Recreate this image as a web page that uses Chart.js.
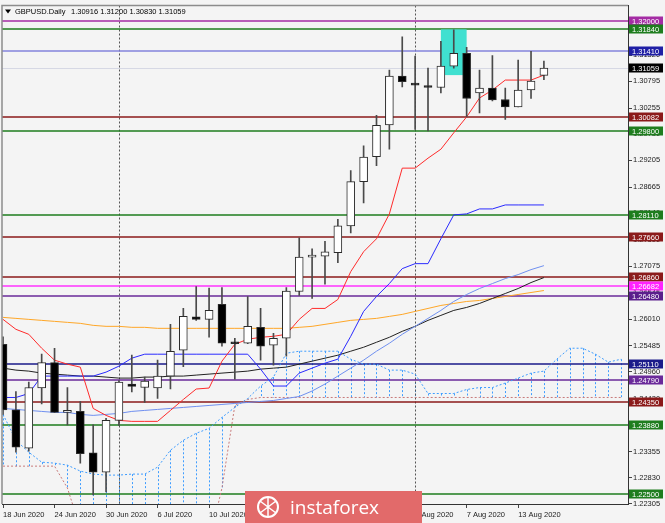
<!DOCTYPE html>
<html>
<head>
<meta charset="utf-8">
<script src="https://cdn.jsdelivr.net/npm/chart.js@4.4.1/dist/chart.umd.min.js"></script>
<style>
html, body { margin: 0; padding: 0; background: #f4f4f4; overflow: hidden; }
canvas { display: block; }
</style>
</head>
<body>
<canvas id="chart" width="665" height="523"></canvas>
<script>
// GBPUSD daily candles, 18 Jun 2020 .. 17 Aug 2020
const openP  = [1.2551,1.2419,1.2342,1.2463,1.2514,1.2414,1.2416,1.2333,1.2294,1.2398,
                1.2471,1.2464,1.2463,1.2487,1.2539,1.2606,1.2601,1.2631,1.2553,1.2553,
                1.2585,1.2549,1.2563,1.2657,1.2726,1.2728,1.2735,1.2789,1.2878,1.2928,
                1.2992,1.3090,1.3074,1.3069,1.3067,1.3110,1.3136,1.3056,1.3066,1.3043,
                1.3028,1.3062,1.30916];
const highP  = [1.2566,1.2456,1.2475,1.2531,1.2543,1.2464,1.2436,1.2389,1.2402,1.2478,
                1.2529,1.2485,1.2519,1.2591,1.2623,1.2667,1.2664,1.2665,1.2563,1.2647,
                1.2623,1.2573,1.2665,1.2765,1.2743,1.2758,1.2802,1.2900,1.2950,1.3011,
                1.3102,1.3169,1.3130,1.3106,1.3160,1.3183,1.3148,1.3102,1.3131,1.3066,
                1.3122,1.3140,1.31200];
const lowP   = [1.2410,1.2334,1.2336,1.2431,1.2414,1.2389,1.2312,1.2248,1.2254,1.2388,
                1.2455,1.2434,1.2442,1.2461,1.2506,1.2599,1.2565,1.2547,1.2481,1.2552,
                1.2519,1.2509,1.2527,1.2649,1.2643,1.2672,1.2715,1.2775,1.2835,1.2910,
                1.2943,1.3068,1.2983,1.2980,1.3056,1.3106,1.3008,1.3016,1.3040,1.3003,
                1.3028,1.3045,1.30830];
const closeP = [1.2419,1.2344,1.2464,1.2514,1.2414,1.2416,1.2331,1.2294,1.2398,1.2475,
                1.2466,1.2477,1.2487,1.2537,1.2607,1.2601,1.2619,1.2553,1.2552,1.2587,
                1.2547,1.2563,1.2658,1.2726,1.2730,1.2737,1.2789,1.2878,1.2927,1.2991,
                1.3090,1.3079,1.3072,1.3067,1.3110,1.3136,1.3045,1.3066,1.3042,1.3028,
                1.3062,1.3080,1.31059];

// Ichimoku
const tenkan = [1.2601,1.2581,1.2571,1.2543,1.2519,1.2511,1.2505,1.2422,1.2408,1.2398,
                1.2396,1.2396,1.2396,1.2418,1.2440,1.2461,1.2463,1.2517,1.2551,1.2561,
                1.2565,1.2567,1.2571,1.2601,1.2623,1.2623,1.2641,1.2697,1.2737,1.2763,
                1.2813,1.2905,1.2905,1.2925,1.2943,1.2976,1.3008,1.3046,1.3062,1.3082,
                1.3082,1.3082,1.3092];
const kijun  = [1.2444,1.2444,1.2452,1.2487,1.2487,1.2487,1.2487,1.2487,1.2495,1.2507,
                1.2523,1.2531,1.2531,1.2531,1.2531,1.2531,1.2531,1.2531,1.2531,1.2531,
                1.2501,1.2467,1.2467,1.2493,1.2503,1.2513,1.2521,1.2567,1.2617,1.2647,
                1.2673,1.2703,1.2713,1.2713,1.2763,1.2811,1.2813,1.2823,1.2823,1.2831,
                1.2831,1.2831,1.2831];
const spanA  = [1.2410,1.2358,1.2334,1.2314,1.2312,1.2308,1.2296,1.2290,1.2288,1.2288,
                1.2290,1.2290,1.2304,1.2338,1.2358,1.2372,1.2382,1.2404,1.2424,1.2442,
                1.2467,1.2485,1.2533,1.2537,1.2537,1.2537,1.2537,1.2521,1.2511,1.2511,
                1.2499,1.2499,1.2491,1.2452,1.2452,1.2452,1.2460,1.2464,1.2464,1.2473,
                1.2483,1.2493,1.2497,1.2521,1.2543,1.2543,1.2531,1.2515,1.2521];
const spanB  = [1.2306,1.2306,1.2306,1.2306,1.2306,1.2262,1.2181,1.2165,1.2160,1.2160,
                1.2160,1.2160,1.2158,1.2158,1.2158,1.2158,1.2152,1.2262,1.2428,1.2440,
                1.2444,1.2444,1.2444,1.2444,1.2444,1.2444,1.2444,1.2444,1.2444,1.2444,
                1.2444,1.2444,1.2444,1.2444,1.2444,1.2444,1.2444,1.2444,1.2444,1.2444,
                1.2444,1.2444,1.2444,1.2444,1.2444,1.2444,1.2444,1.2444,1.2444];

// moving averages
const maBlue   = [1.2422,1.2420,1.2418,1.2416,1.2414,1.2414,1.2410,1.2408,1.2410,1.2412,
                  1.2416,1.2418,1.2420,1.2422,1.2424,1.2426,1.2428,1.2430,1.2432,1.2434,
                  1.2436,1.2438,1.2442,1.2446,1.2457,1.2471,1.2487,1.2503,1.2519,1.2537,
                  1.2553,1.2571,1.2587,1.2603,1.2619,1.2637,1.2651,1.2663,1.2673,1.2683,
                  1.2691,1.2701,1.2709];
const maBlack  = [1.2503,1.2499,1.2497,1.2493,1.2491,1.2489,1.2487,1.2487,1.2485,1.2483,
                  1.2483,1.2485,1.2485,1.2487,1.2487,1.2489,1.2491,1.2493,1.2495,1.2497,
                  1.2501,1.2503,1.2505,1.2511,1.2517,1.2523,1.2529,1.2537,1.2545,1.2555,
                  1.2565,1.2577,1.2587,1.2599,1.2609,1.2619,1.2625,1.2633,1.2643,1.2653,
                  1.2663,1.2675,1.2685];
const maOrange = [1.2605,1.2603,1.2601,1.2599,1.2597,1.2595,1.2593,1.2589,1.2587,1.2587,
                  1.2585,1.2585,1.2583,1.2583,1.2583,1.2583,1.2583,1.2583,1.2583,1.2583,
                  1.2583,1.2583,1.2583,1.2585,1.2587,1.2591,1.2595,1.2599,1.2601,1.2603,
                  1.2607,1.2611,1.2617,1.2623,1.2629,1.2633,1.2637,1.2639,1.2643,1.2647,
                  1.2651,1.2655,1.2659];

// horizontal levels drawn on the chart
const levels      = [1.32000,1.31840,1.31410,1.30082,1.29800,1.28110,1.27660,1.26860,
                     1.26682,1.26480,1.25110,1.24790,1.24350,1.23880,1.22500];
const levelColors = ['#a42ca4','#1e7d1e','#8585dc','#8b1a1a','#1e7d1e','#1e7d1e','#8b1a1a','#8b1a1a',
                     '#ff33ff','#6a2a9a','#1a1a8a','#6a2a9a','#8b1a1a','#1e7d1e','#1e7d1e'];
const labelColors = ['#a42ca4','#1e7d1e','#1f1fa5','#8b1a1a','#1e7d1e','#1e7d1e','#8b1a1a','#8b1a1a',
                     '#ff22ff','#5a1e8c','#1a1a8a','#6a2a9a','#8b1a1a','#1e7d1e','#1e7d1e'];
const bidPrice = 1.31059;
const zone = { from: 34, to: 36, top: 1.3184, bottom: 1.3092 };
const monthStarts = [9, 32];

const yTicks = [1.31320,1.30795,1.30255,1.29730,1.29205,1.28665,1.28140,1.27600,1.27075,
                1.26545,1.26010,1.25485,1.24960,1.24420,1.23895,1.23355,1.22830,1.22305];
const xTickIdx = [0, 4, 8, 12, 16, 20, 24, 28, 32, 36, 40];
const xTickLabels = ['18 Jun 2020','24 Jun 2020','30 Jun 2020','6 Jul 2020','10 Jul 2020',
                     '16 Jul 2020','22 Jul 2020','28 Jul 2020','3 Aug 2020','7 Aug 2020','13 Aug 2020'];
const header = 'GBPUSD.Daily';
const headerQuote = '1.30916 1.31200 1.30830 1.31059';

const FONT = '"Liberation Sans", Arial, sans-serif';
Chart.defaults.font.family = FONT;

const pts = arr => arr.map((v, i) => ({ x: i, y: v }));
const lineSet = (arr, color, order, dash) => ({
  type: 'line', data: pts(arr), borderColor: color, borderWidth: 1,
  borderDash: dash || [], pointRadius: 0, tension: 0, order: order
});

const bodies = openP.map((o, i) => ({ x: i, y: [o, closeP[i]] }));
const wicks = lowP.map((l, i) => ({ x: i, y: [l, highP[i]] }));
const bodyFill = openP.map((o, i) => closeP[i] >= o ? '#ffffff' : '#000000');

const decor = {
  id: 'decor',
  beforeDraw(chart) {
    const c = chart.ctx;
    c.save();
    c.fillStyle = '#f4f4f4';
    c.fillRect(0, 0, chart.width, chart.height);
    c.restore();
  },
  beforeDatasetsDraw(chart) {
    const { ctx: c, chartArea: a, scales: { x, y } } = chart;
    c.save();
    c.beginPath();
    c.rect(a.left, a.top, a.right - a.left, a.bottom - a.top);
    c.clip();

    // kumo hatching
    c.strokeStyle = '#3f9dff';
    c.lineWidth = 1;
    c.setLineDash([2, 2]);
    spanA.forEach((v, i) => {
      const px = Math.round(x.getPixelForValue(i)) + 0.5;
      c.beginPath();
      c.moveTo(px, y.getPixelForValue(v));
      c.lineTo(px, y.getPixelForValue(spanB[i]));
      c.stroke();
    });

    // month separators
    c.strokeStyle = '#555';
    monthStarts.forEach(i => {
      const px = Math.round(x.getPixelForValue(i)) + 0.5;
      c.beginPath();
      c.moveTo(px, a.top);
      c.lineTo(px, a.bottom);
      c.stroke();
    });
    c.setLineDash([]);

    // bid line
    c.strokeStyle = '#d6d8e4';
    c.beginPath();
    const by = Math.round(y.getPixelForValue(bidPrice)) + 0.5;
    c.moveTo(a.left, by);
    c.lineTo(a.right, by);
    c.stroke();

    // horizontal levels
    c.lineWidth = 1.5;
    levels.forEach((v, i) => {
      const py = Math.round(y.getPixelForValue(v));
      c.strokeStyle = levelColors[i];
      c.beginPath();
      c.moveTo(a.left, py);
      c.lineTo(a.right, py);
      c.stroke();
    });

    // highlighted zone
    c.fillStyle = '#40e0d0';
    const zx1 = x.getPixelForValue(zone.from), zx2 = x.getPixelForValue(zone.to);
    const zy1 = y.getPixelForValue(zone.top), zy2 = y.getPixelForValue(zone.bottom);
    c.fillRect(zx1, zy1, zx2 - zx1, zy2 - zy1);
    c.restore();
  },
  afterDraw(chart) {
    const { ctx: c, chartArea: a, scales: { y } } = chart;
    c.save();

    // chart frame (left / top)
    c.strokeStyle = '#8c8c8c';
    c.lineWidth = 1.5;
    c.beginPath();
    c.moveTo(a.left, a.bottom);
    c.lineTo(a.left, a.top);
    c.lineTo(a.right, a.top);
    c.stroke();

    // price labels
    c.font = '7.5px ' + FONT;
    c.textBaseline = 'middle';
    c.textAlign = 'left';
    const lx = a.right + 1;
    const drawTag = (v, bg) => {
      const py = Math.round(y.getPixelForValue(v));
      c.fillStyle = bg;
      c.fillRect(lx, py - 4.5, 34, 9);
      c.fillStyle = '#ffffff';
      c.fillText(v.toFixed(5), lx + 3, py + 0.5);
    };
    levels.forEach((v, i) => drawTag(v, labelColors[i]));
    drawTag(bidPrice, '#000000');

    // header
    c.fillStyle = '#000';
    c.beginPath();
    c.moveTo(a.left + 3, a.top + 4);
    c.lineTo(a.left + 9, a.top + 4);
    c.lineTo(a.left + 6, a.top + 8);
    c.closePath();
    c.fill();
    c.font = '7.5px ' + FONT;
    c.fillText(header, a.left + 13, a.top + 6);
    c.fillText(headerQuote, a.left + 69, a.top + 6);

    // watermark
    c.fillStyle = '#e26a6a';
    c.fillRect(245, 491, 177, 32);
    c.strokeStyle = '#ffffff';
    c.lineWidth = 2;
    c.beginPath();
    c.arc(268, 507, 10, 0, Math.PI * 2);
    c.stroke();
    c.lineWidth = 1.5;
    c.beginPath();
    c.moveTo(260, 501); c.lineTo(276, 513);
    c.moveTo(276, 501); c.lineTo(260, 513);
    c.moveTo(268, 497); c.lineTo(268, 517);
    c.stroke();
    c.fillStyle = '#ffffff';
    c.font = '19px "Open Sans", ' + FONT;
    c.textBaseline = 'alphabetic';
    c.fillText('instaforex', 290, 514);
    c.restore();
  }
};

new Chart(document.getElementById('chart'), {
  type: 'bar',
  data: {
    datasets: [
      { type: 'bar', data: bodies, backgroundColor: bodyFill, borderColor: '#2b2b2b', borderWidth: 1,
        borderSkipped: false, barThickness: 8, minBarLength: 2, grouped: false, order: 0 },
      { type: 'bar', data: wicks, backgroundColor: '#4a4a4a', barThickness: 1, grouped: false, order: 1 },
      lineSet(tenkan, '#ff2b2b', 2),
      lineSet(kijun, '#2a2aff', 3),
      lineSet(maBlue, '#7090f0', 4),
      lineSet(maBlack, '#222222', 5),
      lineSet(maOrange, '#ffa728', 6),
      lineSet(spanA, '#3f9dff', 7, [2, 2]),
      lineSet(spanB, '#c87a7a', 8, [2, 2])
    ]
  },
  options: {
    responsive: false,
    animation: false,
    events: [],
    layout: { padding: { left: 2, top: 2, right: 0, bottom: 0 } },
    plugins: { legend: { display: false }, tooltip: { enabled: false } },
    scales: {
      x: {
        type: 'linear', min: -0.08, max: 48.53, offset: false,
        afterBuildTicks: s => { s.ticks = xTickIdx.map(v => ({ value: v })); },
        afterFit: s => { s.height = 19; },
        grid: { drawOnChartArea: false, offset: false, tickLength: 4, color: '#444' },
        border: { color: '#333', width: 1 },
        ticks: {
          autoSkip: false, maxRotation: 0, align: 'start', padding: 2,
          color: '#222', font: { size: 7.5 },
          callback: v => xTickLabels[xTickIdx.indexOf(v)]
        }
      },
      y: {
        type: 'linear', position: 'right', min: 1.22299, max: 1.32319,
        afterBuildTicks: s => { s.ticks = yTicks.map(v => ({ value: v })); },
        afterFit: s => { s.width = 37; },
        grid: { drawOnChartArea: false, tickLength: 4, color: '#444' },
        border: { color: '#333', width: 1 },
        ticks: { padding: 1, color: '#222', font: { size: 7.5 }, callback: v => v.toFixed(5) }
      }
    }
  },
  plugins: [decor]
});
</script>
</body>
</html>
